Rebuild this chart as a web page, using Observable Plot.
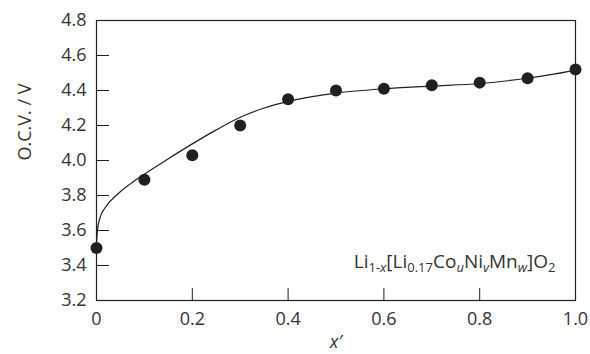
<!DOCTYPE html>
<html>
<head>
<meta charset="utf-8">
<script src="https://cdn.jsdelivr.net/npm/d3@7"></script>
<script src="https://cdn.jsdelivr.net/npm/@observablehq/plot@0.6"></script>
<style>
  html, body { margin: 0; padding: 0; background: #fff; }
  #chart { width: 590px; height: 354px; }
</style>
</head>
<body>
<div id="chart"></div>
<script>
// Measured points
const pointX = [0, 0.1, 0.2, 0.3, 0.4, 0.5, 0.6, 0.7, 0.8, 0.9, 1.0];
const pointV = [3.50, 3.89, 4.03, 4.20, 4.35, 4.40, 4.41, 4.43, 4.445, 4.47, 4.52];

// Fitted curve
const curveX = [0, 0.002, 0.007, 0.018, 0.045, 0.07, 0.1, 0.15, 0.2, 0.25, 0.3, 0.35, 0.4, 0.45, 0.5, 0.6, 0.7, 0.8, 0.9, 1.0];
const curveV = [3.52, 3.60, 3.67, 3.73, 3.81, 3.865, 3.922, 4.01, 4.095, 4.175, 4.247, 4.30, 4.338, 4.365, 4.385, 4.41, 4.425, 4.44, 4.47, 4.515];

// Tick labels
const xTicks = [0, 0.2, 0.4, 0.6, 0.8, 1.0];
const xTickLabels = ["0", "0.2", "0.4", "0.6", "0.8", "1.0"];
const yTicks = [3.2, 3.4, 3.6, 3.8, 4.0, 4.2, 4.4, 4.6, 4.8];

// Texts
const yLabel = "O.C.V. / V";
const xLabel = "x\u2032";
// formula pieces: [text, kind] kind: n = normal, s = subscript, si = subscript italic
const formulaParts = [["Li","n"],["1-","s"],["x","si"],["[Li","n"],["0.17","s"],["Co","n"],["u","si"],["Ni","n"],["v","si"],["Mn","n"],["w","si"],["]O","n"],["2","s"]];
const formulaPlain = formulaParts.map(d => d[0]).join("");

const points = pointX.map((x, i) => ({x, v: pointV[i]}));
const curve = curveX.map((x, i) => ({x, v: curveV[i]}));
const ink = "#231f20";

const svg = Plot.plot({
  width: 590,
  height: 354,
  marginLeft: 96,
  marginRight: 15,
  marginTop: 20,
  marginBottom: 54,
  style: {fontFamily: "'Open Sans', 'Noto Sans', sans-serif", fontSize: "18px", color: "#333", background: "#fff"},
  x: {domain: [0, 1]},
  y: {domain: [3.2, 4.8]},
  marks: [
    Plot.frame({stroke: ink, strokeWidth: 1.2}),
    Plot.axisX({ticks: xTicks, tickFormat: (d, i) => xTickLabels[i], tickSize: -12, tickPadding: 24, label: null, stroke: ink, fill: "#333", fontSize: 18}),
    Plot.axisY({ticks: yTicks, tickFormat: d => d.toFixed(1), tickSize: -13, tickPadding: 23, label: null, stroke: ink, fill: "#333", fontSize: 18}),
    Plot.line(curve, {x: "x", y: "v", curve: "monotone-x", stroke: ink, strokeWidth: 1.2}),
    Plot.dot(points, {x: "x", y: "v", r: 6, fill: ink, stroke: "none"}),
    Plot.text([xLabel], {frameAnchor: "bottom", dy: 47, fontStyle: "italic", fontSize: 18, fill: "#333", text: d => d}),
    Plot.text([yLabel], {frameAnchor: "left", dx: -71, rotate: -90, fontSize: 18, fill: "#333", text: d => d}),
    Plot.text([formulaPlain], {frameAnchor: "bottom-right", dx: -20, dy: -33, lineAnchor: "bottom", textAnchor: "end", fontSize: 19, fill: "#333", text: d => d})
  ]
});

// render formula with subscripts as tspans
d3.select(svg).selectAll("text").filter(function() { return this.textContent === formulaPlain; })
  .each(function() {
    const t = d3.select(this);
    t.text(null);
    let shifted = false;
    formulaParts.forEach(([s, k]) => {
      const ts = t.append("tspan").text(s);
      const sub = k !== "n";
      if (sub && !shifted) { ts.attr("dy", 4); shifted = true; }
      else if (!sub && shifted) { ts.attr("dy", -4); shifted = false; }
      if (sub) ts.attr("font-size", 13);
      if (k === "si") ts.attr("font-style", "italic");
    });
  });

document.getElementById("chart").appendChild(svg);
</script>
</body>
</html>
